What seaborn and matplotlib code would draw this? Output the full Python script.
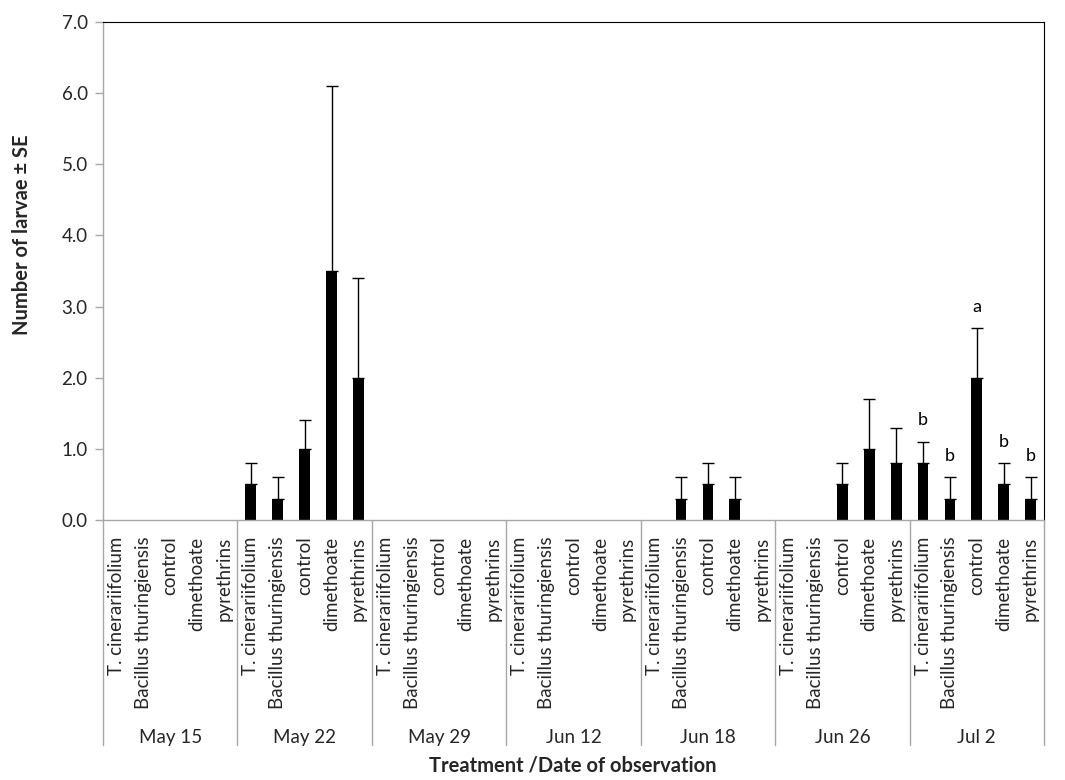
import numpy as np
import pandas as pd
import matplotlib
matplotlib.use("Agg")
import matplotlib.pyplot as plt
import matplotlib.transforms as mtransforms
import seaborn as sns

dates = ["May 15", "May 22", "May 29", "Jun 12", "Jun 18", "Jun 26", "Jul 2"]
treatments = ["T. cinerariifolium", "Bacillus thuringiensis", "control", "dimethoate", "pyrethrins"]

# mean number of larvae per date (order of treatments)
mean_may15 = [0.0, 0.0, 0.0, 0.0, 0.0]
mean_may22 = [0.5, 0.3, 1.0, 3.5, 2.0]
mean_may29 = [0.0, 0.0, 0.0, 0.0, 0.0]
mean_jun12 = [0.0, 0.0, 0.0, 0.0, 0.0]
mean_jun18 = [0.0, 0.3, 0.5, 0.3, 0.0]
mean_jun26 = [0.0, 0.0, 0.5, 1.0, 0.8]
mean_jul02 = [0.8, 0.3, 2.0, 0.5, 0.3]

# top of error bar (mean + SE)
top_may15 = [0.0, 0.0, 0.0, 0.0, 0.0]
top_may22 = [0.8, 0.6, 1.4, 6.1, 3.4]
top_may29 = [0.0, 0.0, 0.0, 0.0, 0.0]
top_jun12 = [0.0, 0.0, 0.0, 0.0, 0.0]
top_jun18 = [0.0, 0.6, 0.8, 0.6, 0.0]
top_jun26 = [0.0, 0.0, 0.8, 1.7, 1.3]
top_jul02 = [1.1, 0.6, 2.7, 0.8, 0.6]

letters_jul02 = ["b", "b", "a", "b", "b"]

means = [mean_may15, mean_may22, mean_may29, mean_jun12, mean_jun18, mean_jun26, mean_jul02]
tops = [top_may15, top_may22, top_may29, top_jun12, top_jun18, top_jun26, top_jul02]

rows = []
for d, m, t in zip(dates, means, tops):
    for tr, mv, tv in zip(treatments, m, t):
        rows.append({"key": f"{d}|{tr}", "date": d, "treatment": tr, "mean": mv, "top": tv})
df = pd.DataFrame(rows)

sns.set_theme(style="white")
font = "Lato"
plt.rcParams["font.family"] = [font, "DejaVu Sans"]

fig = plt.figure(figsize=(10.65, 7.8), dpi=100)
ax = fig.add_axes([103 / 1065, 1 - 520 / 780, (1044 - 103) / 1065, (520 - 22) / 780])

sns.barplot(data=df, x="key", y="mean", order=list(df["key"]), color="black",
            width=0.4, errorbar=None, ax=ax, saturation=1)
for p in ax.patches:
    p.set_edgecolor("black")
    p.set_linewidth(0)

xs = np.arange(len(df))
has_err = (df["top"] > df["mean"]).to_numpy()
ax.errorbar(xs[has_err], df["mean"][has_err],
            yerr=[np.zeros(has_err.sum()), (df["top"] - df["mean"])[has_err]],
            fmt="none", ecolor="black", elinewidth=1.0, capsize=4, capthick=1.0)

# significance letters for Jul 2
j0 = len(df) - 5
for i, (lt, tv) in enumerate(zip(letters_jul02, top_jul02)):
    ax.text(j0 + i, tv + 0.3, lt, ha="center", va="center", fontsize=13, color="black")

ax.set_ylim(0, 7)
ax.set_xlim(-0.5, len(df) - 0.5)
ax.set_yticks(np.arange(0, 7.01, 1.0))
ax.set_yticklabels([f"{v:.1f}" for v in np.arange(0, 7.01, 1.0)], fontsize=13.5)
ax.set_xticks(xs)
ax.set_xticklabels(list(df["treatment"]), rotation=90, fontsize=13.5, va="top")
ax.tick_params(axis="x", length=0, pad=12)
ax.tick_params(axis="y", length=6, width=1, color="#a6a6a6", direction="out", left=True, pad=5)
ax.set_xlabel("")
ax.set_ylabel("")

for s in ["left", "bottom"]:
    ax.spines[s].set_color("#a6a6a6")
    ax.spines[s].set_linewidth(1)
for s in ["top", "right"]:
    ax.spines[s].set_color("black")
    ax.spines[s].set_linewidth(0.8)

trans = mtransforms.blended_transform_factory(ax.transData, ax.transAxes)
ybot = -(745 - 520) / (520 - 22)
for k in range(len(dates) + 1):
    xb = k * 5 - 0.5
    ax.plot([xb, xb], [0, ybot], transform=trans, color="#a6a6a6", lw=1, clip_on=False)

ydate = -(738 - 520) / (520 - 22)
for k, d in enumerate(dates):
    ax.text(k * 5 + 2, ydate, d, transform=trans, ha="center", va="center", fontsize=13.5)

fig.text((423 + 722) / 2 / 1065, 1 - 765 / 780, "Treatment /Date of observation",
         ha="center", va="center", fontsize=14.5, fontweight="bold")
fig.text(22 / 1065, 1 - 235 / 780, "Number of larvae ± SE", rotation=90,
         ha="center", va="center", fontsize=14.5, fontweight="bold")

fig.savefig("out.png", dpi=100)
